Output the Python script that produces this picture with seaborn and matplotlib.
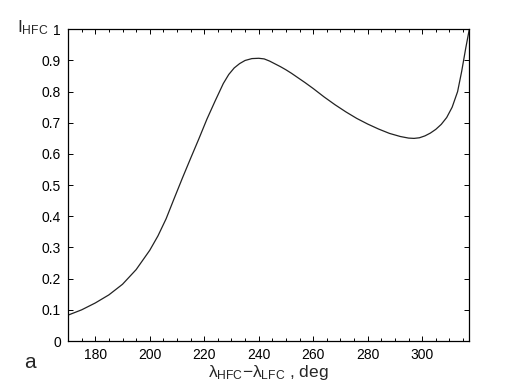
import matplotlib
matplotlib.use("Agg")
import matplotlib.pyplot as plt
import seaborn as sns
from matplotlib.ticker import MultipleLocator, FixedLocator

# data
lam_diff = [170, 175, 180, 185, 190, 195, 200, 203, 206, 209, 212, 215, 218, 221,
            224, 227, 229, 231, 233, 235, 237.5, 240, 242, 244, 246, 248, 250, 252,
            254, 257, 260, 264, 268, 272, 276, 280, 284, 288, 292, 295, 297, 299,
            301, 303, 305, 307, 309, 311, 313, 314.5, 316, 317.3]
i_hfc = [0.083, 0.100, 0.122, 0.148, 0.182, 0.229, 0.291, 0.337, 0.392, 0.458,
         0.523, 0.586, 0.648, 0.712, 0.770, 0.826, 0.855, 0.876, 0.890, 0.900,
         0.906, 0.907, 0.905, 0.898, 0.889, 0.880, 0.870, 0.859, 0.847, 0.829,
         0.810, 0.783, 0.758, 0.735, 0.714, 0.696, 0.680, 0.666, 0.656, 0.651,
         0.650, 0.652, 0.658, 0.667, 0.679, 0.695, 0.717, 0.750, 0.800, 0.865,
         0.940, 1.0]
x_ticks = [180, 200, 220, 240, 260, 280, 300]
y_ticks = [0, 0.1, 0.2, 0.3, 0.4, 0.5, 0.6, 0.7, 0.8, 0.9, 1]
y_tick_labels = ["0", "0.1", "0.2", "0.3", "0.4", "0.5", "0.6", "0.7", "0.8", "0.9", "1"]

sns.set_style("ticks")
plt.rcParams["font.family"] = ["Liberation Sans", "DejaVu Sans"]
plt.rcParams["mathtext.fontset"] = "custom"
plt.rcParams["mathtext.rm"] = "Liberation Sans"
plt.rcParams["mathtext.it"] = "Liberation Sans"
plt.rcParams["mathtext.sf"] = "Liberation Sans"

fig = plt.figure(figsize=(5.18, 3.90), dpi=100)
ax = fig.add_axes([0.1313, 0.1256, 0.7747, 0.7993])

sns.lineplot(x=lam_diff, y=i_hfc, ax=ax, color="#222222", linewidth=0.9)

ax.set_xlim(170, 317.3)
ax.set_ylim(0, 1)
ax.xaxis.set_major_locator(FixedLocator(x_ticks))
ax.xaxis.set_minor_locator(MultipleLocator(5))
ax.set_yticks(y_ticks)
ax.set_yticklabels(y_tick_labels)

for s in ax.spines.values():
    s.set_visible(True)
    s.set_linewidth(0.9)
    s.set_color("black")
ax.tick_params(which="both", direction="in", top=True, right=True,
               labelsize=10, colors="black", width=0.7)
ax.tick_params(which="major", length=3.5, pad=5)
ax.tick_params(which="minor", length=2)

ax.set_xlabel(r"$\lambda_{\mathrm{HFC}}$$-$$\lambda_{\mathrm{LFC}}$ , deg", fontsize=12.5, labelpad=1)
ax.set_ylabel("")
fig.text(0.033, 0.905, r"$\mathrm{I}_{\mathrm{HFC}}$", fontsize=12.5, ha="left", va="bottom")
fig.text(0.046, 0.047, "a", fontsize=15, ha="left", va="bottom")

fig.savefig("out.png", dpi=100)
